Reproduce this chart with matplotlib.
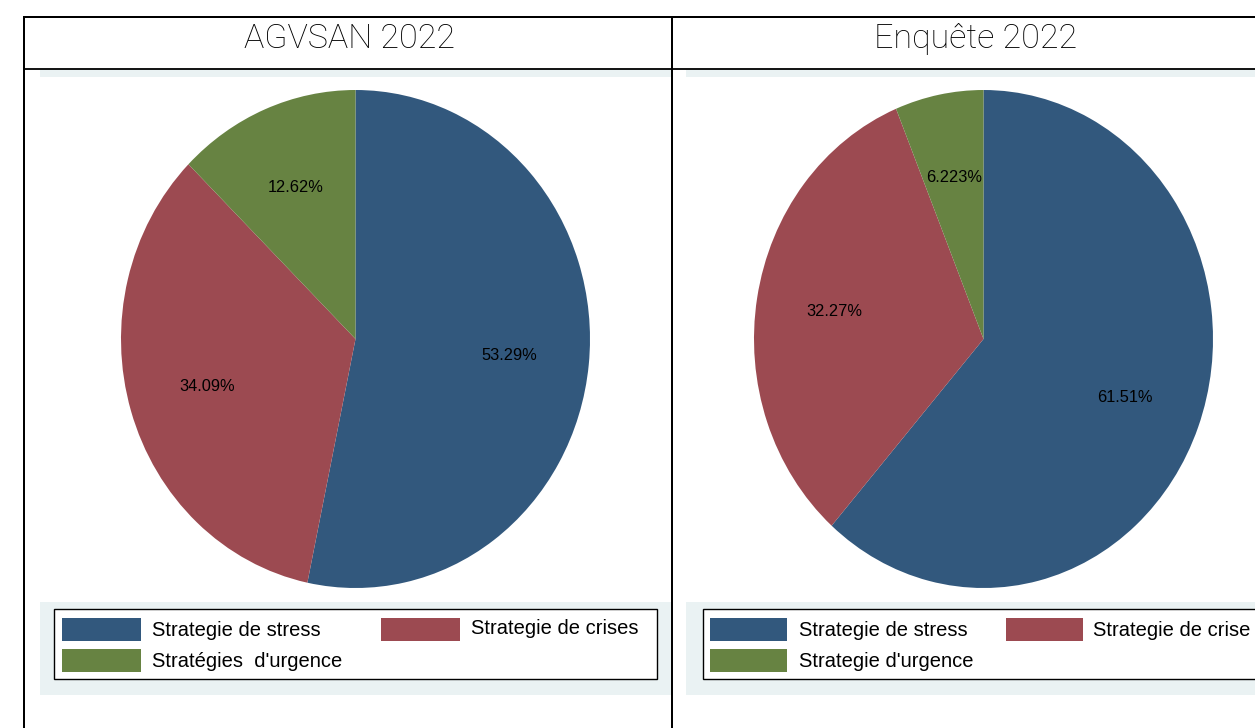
import matplotlib
matplotlib.use('Agg')
import matplotlib.pyplot as plt
from matplotlib.patches import Rectangle

# ---------------- data ----------------
panel_titles = ['AGVSAN 2022', 'Enquête 2022']
categories_agvsan = ['Strategie de stress', 'Strategie de crises', "Stratégies  d'urgence"]
categories_enquete = ['Strategie de stress', 'Strategie de crise', "Strategie d'urgence"]
values_agvsan = [53.29, 34.09, 12.62]
values_enquete = [61.51, 32.27, 6.223]
colors = ['#32587D', '#9C4A51', '#678342']
bg_color = '#EAF2F3'

W, H = 1255, 728
fig = plt.figure(figsize=(W / 100, H / 100), dpi=100)
fig.patch.set_facecolor('white')

ov = fig.add_axes([0, 0, 1, 1], zorder=0)
ov.set_xlim(0, W)
ov.set_ylim(H, 0)
ov.axis('off')


def px_axes(x0, y0, x1, y1, z=2):
    return fig.add_axes([x0 / W, 1 - y1 / H, (x1 - x0) / W, (y1 - y0) / H], zorder=z)


LBL = 'Liberation Sans'
panels = [
    dict(title=panel_titles[0], cats=categories_agvsan, vals=values_agvsan,
         bg=(40, 671), pie=(121, 590), tcx=350,
         box=(54, 657), sw1=62, sw2=381, swlen=79, tx1=152, tx2=471, dy2=-2.5),
    dict(title=panel_titles[1], cats=categories_enquete, vals=values_enquete,
         bg=(686, 1260), pie=(754, 1213), tcx=976,
         box=(703, 1275), sw1=710, sw2=1006, swlen=77, tx1=799, tx2=1093, dy2=0),
]

for p in panels:
    bx0, bx1 = p['bg']
    # graph region background
    ov.add_patch(Rectangle((bx0, 69), bx1 - bx0, 695 - 69, facecolor=bg_color, edgecolor='none', zorder=1))
    # plot region (white)
    ov.add_patch(Rectangle((bx0, 77), bx1 - bx0, 602 - 77, facecolor='white', edgecolor='none', zorder=1))
    # title
    ov.text(p['tcx'], 39, p['title'], ha='center', va='center', fontsize=24.5,
            family=['Roboto', 'DejaVu Sans'], fontweight='light', color='black', zorder=5)

    # pie
    px0, px1 = p['pie']
    ax = px_axes(px0, 90, px1, 588)
    ax.pie(p['vals'], colors=colors, startangle=90, counterclock=False,
           autopct=lambda v: f'{v:.4g}%', pctdistance=0.66,
           wedgeprops=dict(linewidth=0),
           textprops=dict(fontsize=11.8, family=LBL, color='black'))
    ax.set_aspect('auto')
    ax.set_xlim(-1, 1)
    ax.set_ylim(-1, 1)
    ax.axis('off')

    # legend
    lx0, lx1 = p['box']
    ov.add_patch(Rectangle((lx0, 609), lx1 - lx0, 679 - 609, facecolor='white',
                           edgecolor='black', linewidth=1.0, zorder=3))
    sw = p['swlen']
    rows = [(p['sw1'], p['tx1'], 618, 0), (p['sw2'], p['tx2'], 618, p['dy2']), (p['sw1'], p['tx1'], 649, 0)]
    for (sx, tx, sy, dy), c, lab in zip(rows, colors, p['cats']):
        ov.add_patch(Rectangle((sx, sy), sw, 23, facecolor=c, edgecolor='none', zorder=4))
        ov.text(tx, sy + 12.5 + dy, lab, ha='left', va='center', fontsize=14.5,
                family=LBL, color='black', zorder=5)

# table frame
lw2 = 2 * 72 / 100
ov.plot([24, W], [17, 17], color='black', lw=lw2, zorder=6, solid_capstyle='butt')
ov.plot([24, W], [69, 69], color='black', lw=1.3, zorder=6, solid_capstyle='butt')
ov.plot([24, 24], [16, H], color='black', lw=lw2, zorder=6, solid_capstyle='butt')
ov.plot([672, 672], [16, H], color='black', lw=lw2, zorder=6, solid_capstyle='butt')

fig.savefig('out.png', dpi=100, facecolor='white')
